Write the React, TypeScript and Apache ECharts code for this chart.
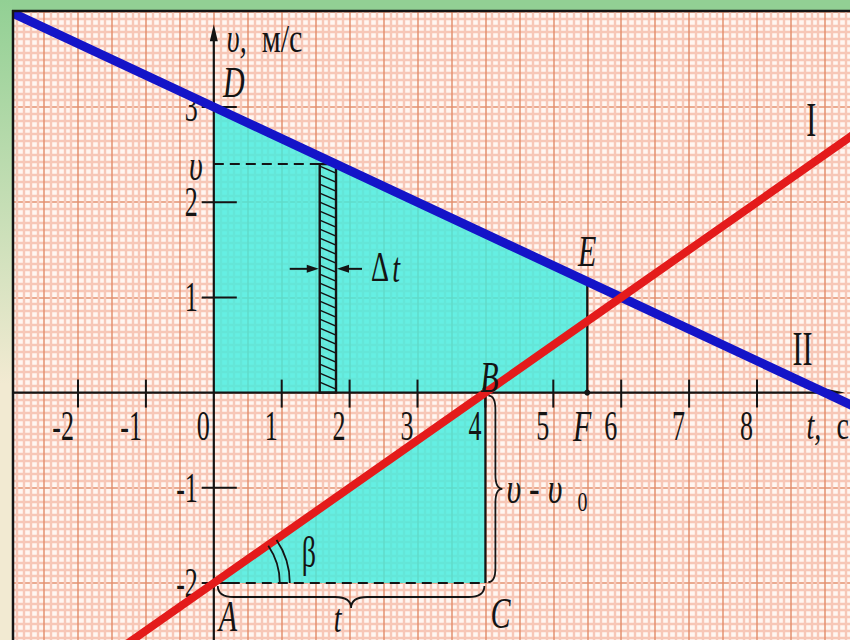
import React, { useEffect, useRef } from "react";
import * as echarts from "echarts";

// ---- velocity graphs, v (м/с) against t (с) ----
// I: speeding up from v0 = -2, II: slowing down from v0 = 3
const lineI: [number, number][] = [[-2, -3], [0, -2], [4, 0], [6, 1], [9.5, 2.75]];
const lineII: [number, number][] = [[-3, 4], [0, 3], [6, 1], [9, 0], [9.5, -0.17]];

// named points of the construction
const ptO: [number, number] = [0, 0];
const ptD: [number, number] = [0, 3];
const ptA: [number, number] = [0, -2];
const ptB: [number, number] = [4, 0];
const ptC: [number, number] = [4, -2];
const ptE: [number, number] = [5.5, 1.17];
const ptF: [number, number] = [5.5, 0];

const areaUnderII = [ptO, ptD, ptE, ptF];
const triangleABC = [ptA, ptB, ptC];

// narrow strip of width Δt under graph II
const stripT = [1.56, 1.8];
const stripV = 2.4;
const deltaArrowV = 1.3;

// axis ticks
const tTicks = [-2, -1, 0, 1, 2, 3, 4, 5, 6, 7, 8];
const tTickLabels = ["-2", "-1", "0", "1", "2", "3", "4", "5", "6", "7", "8"];
const vTicks = [3, 2, 1, -1, -2];
const vTickLabels = ["3", "2", "1", "-1", "-2"];

const tRange = [-3, 9.5];
const vRange = [-3, 4];
const tAxisEnd = 9.29;
const vAxisEnd = 3.87;

// label anchors for the graph names
const lineNames: [string, [number, number]][] = [
  ["I", [8.8, 2.87]],
  ["II", [8.67, 0.46]],
];
const pointNames: [string, [number, number]][] = [
  ["D", ptD],
  ["B", ptB],
  ["E", ptE],
  ["F", ptF],
  ["A", ptA],
  ["C", ptC],
];

// ---- layout & style ----
const W = 850;
const H = 640;
const CW = 870; // drawing surface runs a little past the visible page
const CH = 690;
const PX_T = 67.9;
const PX_V = 95.2;
const ORIGIN_X = 213.8;
const ORIGIN_Y = 392.6;
const gridLeft = ORIGIN_X + tRange[0] * PX_T;
const gridTop = ORIGIN_Y - vRange[1] * PX_V;
const gridW = (tRange[1] - tRange[0]) * PX_T;
const gridH = (vRange[1] - vRange[0]) * PX_V;

const INK = "#141414";
const RED = "#e41b1b";
const BLUE = "#1414c8";
const CYAN = "rgba(62, 238, 224, 0.8)";
const GREEN = "#92d094";
const BEIGE = "#f2ead2";
const SERIF = '"Liberation Serif", "Times New Roman", "DejaVu Serif", serif';

const noteOffset: Record<string, [number, number]> = {
  D: [20, -25],
  B: [4, -16],
  E: [0, -31],
  F: [-5, 33],
  A: [14, 33],
  C: [15, 30],
};

type Opt = { size?: number; italic?: boolean; sy?: number; align?: string };

function txt(text: string, x: number, y: number, o: Opt = {}) {
  return {
    type: "text",
    x,
    y,
    scaleY: o.sy ?? 1.6,
    style: {
      text,
      x: 0,
      y: 0,
      fill: INK,
      fontFamily: SERIF,
      fontSize: o.size ?? 26,
      fontStyle: o.italic ? "italic" : "normal",
      align: o.align ?? "center",
      verticalAlign: "middle",
    },
  };
}

function seg(x1: number, y1: number, x2: number, y2: number, w = 2, dash?: number[]) {
  return {
    type: "line",
    shape: { x1, y1, x2, y2 },
    style: { stroke: INK, lineWidth: w, lineDash: dash, fill: "none" },
  };
}

function tri(points: number[][]) {
  return { type: "polygon", shape: { points }, style: { fill: INK } };
}

function dot(x: number, y: number, r = 3) {
  return { type: "circle", shape: { cx: x, cy: y, r }, style: { fill: INK } };
}

// curly brace opening upward, tip pointing down
function hBrace(x1: number, x2: number, y: number, h: number, q: number) {
  const xm = (x1 + x2) / 2;
  return `M${x1},${y} Q${x1},${y + h} ${x1 + q},${y + h} L${xm - q},${y + h} Q${xm},${y + h} ${xm},${y + 2 * h} Q${xm},${y + h} ${xm + q},${y + h} L${x2 - q},${y + h} Q${x2},${y + h} ${x2},${y}`;
}

// curly brace opening left, tip pointing right
function vBrace(y1: number, y2: number, x: number, h: number, q: number) {
  const ym = (y1 + y2) / 2;
  return `M${x},${y1} Q${x + h},${y1} ${x + h},${y1 + q} L${x + h},${ym - q} Q${x + h},${ym} ${x + 2 * h},${ym} Q${x + h},${ym} ${x + h},${ym + q} L${x + h},${y2 - q} Q${x + h},${y2} ${x},${y2}`;
}

function overlay(name: string, z: number, draw: (c: (p: number[]) => number[]) => any[]) {
  return {
    type: "custom",
    name,
    z,
    silent: true,
    clip: false,
    coordinateSystem: "cartesian2d",
    data: [[0, 0]],
    renderItem: (_p: any, api: any) => ({
      type: "group",
      children: draw((p: number[]) => api.coord(p)),
    }),
  };
}

function polygonSeries(name: string, pts: [number, number][]) {
  return overlay(name, 1, (c) => [
    { type: "polygon", shape: { points: pts.map((p) => c(p)) }, style: { fill: CYAN } },
  ]);
}

function buildOption() {
  const axisBase = {
    type: "value",
    axisLine: { show: false },
    axisTick: { show: false },
    axisLabel: { show: false },
  };
  return {
    animation: false,
    backgroundColor: "#fff6f1",
    grid: { left: gridLeft, top: gridTop, width: gridW, height: gridH, show: false },
    xAxis: {
      ...axisBase,
      min: tRange[0],
      max: tRange[1],
      interval: 0.5,
      splitLine: { show: true, lineStyle: { color: "#e3906f", width: 1.5 } },
      minorTick: { show: false, splitNumber: 5 },
      minorSplitLine: { show: true, lineStyle: { color: "#f7c7b7", width: 2.4 } },
    },
    yAxis: {
      ...axisBase,
      min: vRange[0],
      max: vRange[1],
      interval: 1,
      splitLine: { show: true, lineStyle: { color: "#e3906f", width: 1.5 } },
      minorTick: { show: false, splitNumber: 14 },
      minorSplitLine: { show: true, lineStyle: { color: "#f7c7b7", width: 2.4 } },
    },
    series: [
      polygonSeries("area II", areaUnderII),
      polygonSeries("area I", triangleABC),
      overlay("axes", 2, (c) => {
        const [ox, oy] = c([0, 0]);
        const [xl] = c([tRange[0], 0]);
        const [xe] = c([tAxisEnd, 0]);
        const yb = c([0, vRange[0]])[1];
        const ye = c([0, vAxisEnd])[1];
        const els: any[] = [
          seg(xl, oy, xe - 12, oy, 2.2),
          tri([[xe, oy], [xe - 20, oy - 4], [xe - 20, oy + 4]]),
          seg(ox, yb, ox, ye + 12, 2.2),
          tri([[ox, ye], [ox - 4, ye + 17], [ox + 4, ye + 17]]),
        ];
        tTicks.forEach((t, i) => {
          const x = c([t, 0])[0];
          if (t !== 0) els.push(seg(x, oy - 13, x, oy + 15, 2));
          els.push(txt(tTickLabels[i], x - 4, oy + 34, { align: "right", size: 26, sy: 1.62 }));
        });
        vTicks.forEach((v, i) => {
          const y = c([0, v])[1];
          els.push(seg(ox - 12, y, ox + 23, y, 2));
          els.push(txt(vTickLabels[i], ox - 16, y, { align: "right", size: 26, sy: 1.62 }));
        });
        // axis names
        els.push(txt("υ,", ox + 13, ye + 14, { align: "left", size: 28, italic: true, sy: 1.45 }));
        els.push(txt("м/с", ox + 48, ye + 14, { align: "left", size: 30, sy: 1.35 }));
        els.push(txt("t,", xe - 38, oy + 33, { align: "left", size: 28, italic: true, sy: 1.45 }));
        els.push(txt("с", xe - 8, oy + 33, { align: "left", size: 28, sy: 1.45 }));
        return els;
      }),
      overlay("strip", 3, (c) => {
        const [xl, yt] = c([stripT[0], stripV]);
        const [xr, yb] = c([stripT[1], 0]);
        const els: any[] = [];
        for (let y = yt + 2; y + 7 <= yb - 1; y += 9) els.push(seg(xl, y, xr, y + 7, 1.6));
        els.push({
          type: "rect",
          shape: { x: xl, y: yt, width: xr - xl, height: yb - yt },
          style: { fill: "none", stroke: INK, lineWidth: 2.4 },
        });
        // Δt arrows
        const ya = c([0, deltaArrowV])[1];
        els.push(seg(xl - 30, ya, xl - 10, ya, 2));
        els.push(tri([[xl - 1, ya], [xl - 13, ya - 4], [xl - 13, ya + 4]]));
        els.push(seg(xr + 26, ya, xr + 10, ya, 2));
        els.push(tri([[xr + 1, ya], [xr + 13, ya - 4], [xr + 13, ya + 4]]));
        els.push(txt("Δ", xr + 44, ya - 2, { size: 28, sy: 1.5 }));
        els.push(txt("t", xr + 60, ya - 1, { size: 28, italic: true, sy: 1.5 }));
        return els;
      }),
      overlay("guides", 3, (c) => {
        const [lx, ly] = c([0, stripV]);
        const sx = c([stripT[0], stripV])[0];
        const a = c(ptA);
        const b = c(ptB);
        const cc = c(ptC);
        const e = c(ptE);
        const f = c(ptF);
        return [
          seg(lx, ly, sx, ly, 2, [10, 6]),
          seg(a[0], a[1], cc[0], cc[1], 2, [10, 6]),
          seg(b[0], b[1], cc[0], cc[1], 2.2),
          seg(e[0], e[1], f[0], f[1], 2.2),
          dot(b[0], b[1] - 3),
          dot(e[0], e[1]),
          dot(f[0], f[1]),
          dot(a[0], a[1]),
          txt("υ", lx - 11, ly + 1, { align: "right", size: 30, italic: true, sy: 1.45 }),
        ];
      }),
      {
        type: "line",
        name: "II",
        data: lineII,
        symbol: "none",
        silent: true,
        z: 5,
        lineStyle: { color: BLUE, width: 9, cap: "butt" },
      },
      {
        type: "line",
        name: "I",
        data: lineI,
        symbol: "none",
        silent: true,
        z: 5,
        lineStyle: { color: RED, width: 8, cap: "butt" },
      },
      overlay("notes", 6, (c) => {
        const els: any[] = [];
        pointNames.forEach(([name, p]) => {
          const [x, y] = c(p);
          const [dx, dy] = noteOffset[name];
          els.push(txt(name, x + dx, y + dy, { size: 30, italic: true, sy: 1.5 }));
        });
        lineNames.forEach(([name, p]) => {
          const [x, y] = c(p);
          els.push(txt(name, x, y, { size: 30, sy: 1.65 }));
        });
        const a = c(ptA);
        const b = c(ptB);
        const cc = c(ptC);
        // brace under AC: elapsed time t
        els.push({
          type: "path",
          shape: { pathData: hBrace(a[0] + 4, cc[0] - 1, a[1] + 3, 11, 16) },
          style: { stroke: INK, fill: "none", lineWidth: 1.8 },
        });
        els.push(txt("t", (a[0] + cc[0]) / 2 - 12, a[1] + 36, { size: 28, italic: true, sy: 1.4 }));
        // brace beside BC: change of velocity
        els.push({
          type: "path",
          shape: { pathData: vBrace(b[1] + 3, cc[1] - 1, b[0] + 3, 7, 14) },
          style: { stroke: INK, fill: "none", lineWidth: 1.8 },
        });
        const ym = (b[1] + cc[1]) / 2;
        els.push(txt("υ - υ", b[0] + 21, ym, { align: "left", size: 32, italic: true, sy: 1.4 }));
        els.push(txt("0", b[0] + 92, ym + 13, { align: "left", size: 20, sy: 1.4 }));
        // angle β at A
        [66, 76].forEach((r) =>
          els.push({
            type: "arc",
            shape: { cx: a[0], cy: a[1], r, startAngle: -0.6, endAngle: 0, clockwise: true },
            style: { stroke: INK, fill: "none", lineWidth: 1.8 },
          })
        );
        els.push(txt("β", a[0] + 95, a[1] - 31, { size: 28, sy: 1.6 }));
        return els;
      }),
    ],
    graphic: [
      { type: "rect", z: 100, shape: { x: 0, y: 0, width: CW, height: 10 }, style: { fill: GREEN } },
      {
        type: "rect",
        z: 100,
        shape: { x: 0, y: 0, width: 12, height: H },
        style: {
          fill: new echarts.graphic.LinearGradient(0, 0, 0, 1, [
            { offset: 0, color: GREEN },
            { offset: 0.6, color: BEIGE },
            { offset: 1, color: BEIGE },
          ]),
        },
      },
      { type: "line", z: 101, shape: { x1: 13, y1: 10, x2: 13, y2: CH }, style: { stroke: INK, lineWidth: 2.5 } },
      { type: "line", z: 101, shape: { x1: 12, y1: 11, x2: CW, y2: 11 }, style: { stroke: INK, lineWidth: 2.5 } },
    ],
  };
}

export default function App() {
  const ref = useRef<HTMLDivElement>(null);
  useEffect(() => {
    const el = ref.current;
    if (!el) return;
    const chart = echarts.init(el, null, { renderer: "svg" });
    chart.setOption(buildOption() as any);
    return () => chart.dispose();
  }, []);
  return (
    <div style={{ position: "absolute", left: 0, top: 0, width: W, height: H, overflow: "hidden" }}>
      <div ref={ref} style={{ width: CW, height: CH }} />
    </div>
  );
}
